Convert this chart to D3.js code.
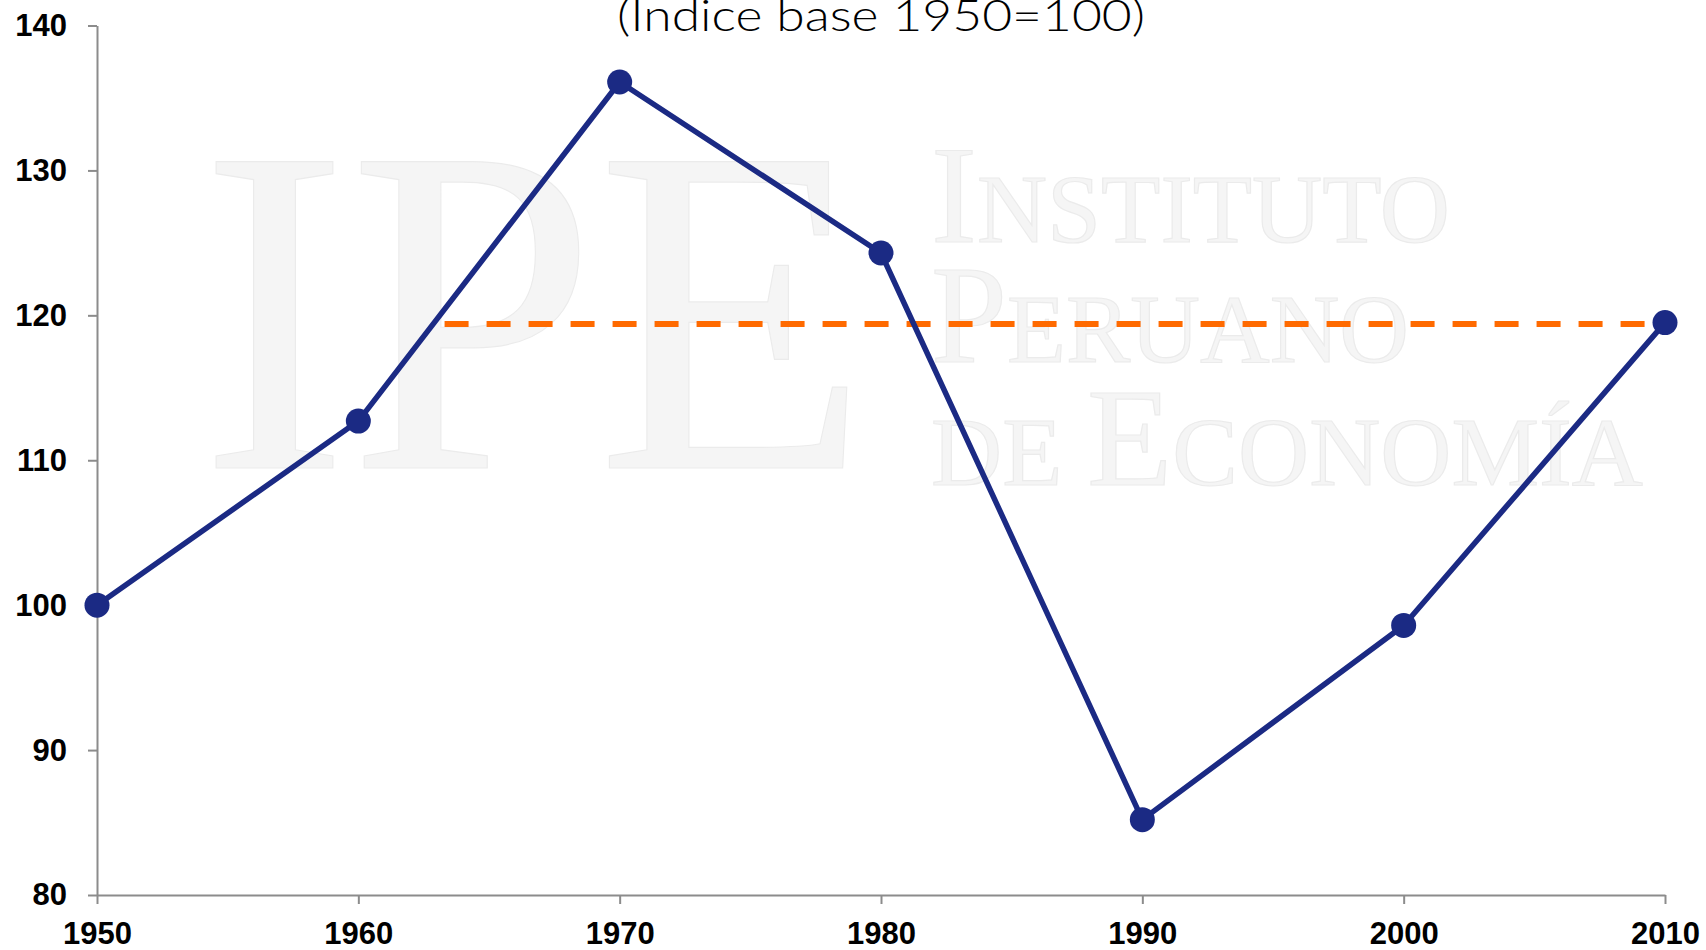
<!DOCTYPE html>
<html>
<head>
<meta charset="utf-8">
<script src="https://cdn.jsdelivr.net/npm/d3@7"></script>
<style>
  body { margin: 0; background: #fff; }
</style>
</head>
<body>
<div id="chart"></div>
<script>
  // values
  var years = [1950, 1960, 1970, 1980, 1990, 2000, 2010];
  var index = [100, 112.7, 136.1, 124.3, 85.2, 98.6, 119.5];
  // orange reference level (2010 value carried back)
  var refYears = [1963.3, 2010];
  var refValues = [119.4, 119.4];
  var yTicks = [80, 90, 100, 110, 120, 130, 140];
  var titleText = "(Índice base 1950=100)";

  var W = 1706, H = 950;
  var svg = d3.select("#chart").append("svg")
      .attr("width", W)
      .attr("height", H);

  // faint IPE watermark in the background
  var wm = svg.append("g")
      .style("font-family", "'Liberation Serif', 'DejaVu Serif', serif")
      .style("fill", "#f5f5f5")
      .style("stroke", "#ebebeb")
      .style("stroke-width", 1.2);

  wm.append("text")
      .attr("x", 200).attr("y", 468)
      .attr("textLength", 669).attr("lengthAdjust", "spacingAndGlyphs")
      .style("font-size", "468px")
      .text("IPE");

  function smallCaps(x, y, len, parts) {
    var t = wm.append("text")
        .attr("x", x).attr("y", y)
        .attr("textLength", len).attr("lengthAdjust", "spacingAndGlyphs");
    parts.forEach(function (p) {
      t.append("tspan").style("font-size", p[1] + "px").text(p[0]);
    });
  }
  smallCaps(931, 242, 519, [["I", 139], ["NSTITUTO", 98]]);
  smallCaps(931, 362, 478, [["P", 139], ["ERUANO", 98]]);
  smallCaps(931, 485, 712, [["DE ", 98], ["E", 139], ["CONOMÍA", 98]]);

  // title, its top runs off the page
  svg.append("text")
      .attr("x", 881)
      .attr("y", 31)
      .attr("text-anchor", "middle")
      .attr("textLength", 528)
      .attr("lengthAdjust", "spacingAndGlyphs")
      .style("font-family", "Lato, 'Open Sans', sans-serif")
      .style("font-weight", 300)
      .style("font-size", "43px")
      .style("fill", "#000")
      .text(titleText);

  var x = d3.scaleLinear().domain([1950, 2010]).range([97, 1665]);
  var y = d3.scaleLinear().domain([80, 140]).range([895, 25.5]);

  var yAxis = svg.append("g")
      .attr("transform", "translate(97,0)")
      .call(d3.axisLeft(y).tickValues(yTicks).tickSizeInner(9).tickSizeOuter(0).tickPadding(21).tickFormat(d3.format("d")));
  var xAxis = svg.append("g")
      .attr("transform", "translate(0,895)")
      .call(d3.axisBottom(x).tickValues(years).tickSizeInner(9).tickSizeOuter(0).tickPadding(18).tickFormat(d3.format("d")));

  [yAxis, xAxis].forEach(function (a) {
    a.selectAll("path, line").style("stroke", "#8c8c8c").style("stroke-width", 2);
    a.selectAll("text")
        .style("font-family", "'Liberation Sans', Arial, sans-serif")
        .style("font-weight", "bold")
        .style("font-size", "31px")
        .style("fill", "#000");
  });

  // orange dashed reference
  svg.append("path")
      .datum(refYears.map(function (d, i) { return [d, refValues[i]]; }))
      .attr("d", d3.line().x(function (d) { return x(d[0]); }).y(function (d) { return y(d[1]); }))
      .style("fill", "none")
      .style("stroke", "#ff6a00")
      .style("stroke-width", 6)
      .style("stroke-dasharray", "24,18");

  // main series
  var pts = years.map(function (d, i) { return [d, index[i]]; });
  svg.append("path")
      .datum(pts)
      .attr("d", d3.line().x(function (d) { return x(d[0]); }).y(function (d) { return y(d[1]); }))
      .style("fill", "none")
      .style("stroke", "#1b2a84")
      .style("stroke-width", 5.5)
      .style("stroke-linejoin", "round");

  svg.selectAll("circle.pt")
      .data(pts)
      .enter()
      .append("circle")
      .attr("class", "pt")
      .attr("cx", function (d) { return x(d[0]); })
      .attr("cy", function (d) { return y(d[1]); })
      .attr("r", 12.5)
      .style("fill", "#1b2a84");
</script>
</body>
</html>
